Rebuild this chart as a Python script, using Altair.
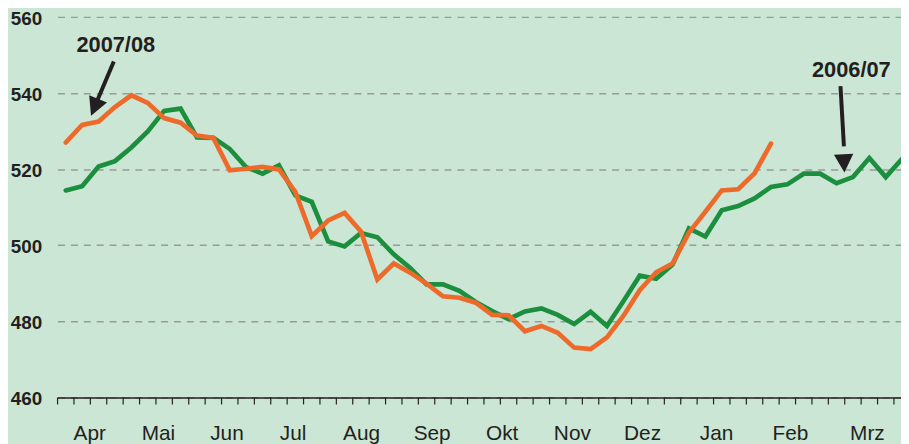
import altair as alt
import pandas as pd

# weekly values (week index k, plotted at k + 0.5)
green_vals = [514.4, 515.5, 520.7, 522.1, 525.7, 529.9, 535.3, 535.9, 528.3, 528.2,
              525.3, 520.5, 518.8, 521.0, 513.1, 511.4, 501.0, 499.7, 503.2, 502.1,
              497.6, 494.0, 489.7, 489.7, 488.0, 485.1, 482.7, 480.6, 482.6, 483.4,
              481.7, 479.3, 482.5, 478.8, 485.3, 492.0, 491.2, 494.9, 504.4, 502.3,
              509.2, 510.3, 512.3, 515.3, 516.0, 518.8, 518.8, 516.3, 517.9, 522.9,
              517.9, 522.7]
orange_vals = [527.0, 531.6, 532.5, 536.3, 539.4, 537.4, 533.4, 532.2, 528.8, 528.2,
               519.7, 520.1, 520.6, 519.9, 514.0, 502.4, 506.5, 508.5, 503.6, 491.0,
               495.2, 492.8, 489.9, 486.6, 486.2, 484.9, 481.7, 481.6, 477.4, 478.8,
               477.0, 473.1, 472.7, 475.8, 481.4, 488.2, 492.9, 495.2, 503.3, 508.8,
               514.4, 514.7, 518.9, 526.7]

months = ["Apr", "Mai", "Jun", "Jul", "Aug", "Sep", "Okt", "Nov", "Dez", "Jan", "Feb", "Mrz"]
month_pos = [1.96, 6.15, 10.33, 14.36, 18.54, 22.84, 27.11, 31.39, 35.67, 40.18, 44.69, 49.38]
y_ticks = [460, 480, 500, 520, 540, 560]
week_ticks = list(range(52))

ann_text = ["2007/08", "2006/07"]
ann_text_week = [3.55, 48.4]
ann_text_value = [552.7, 545.9]
arrow_start_week = [3.43, 47.74]
arrow_start_value = [548.3, 541.8]
arrow_end_week = [2.28, 47.95]
arrow_end_value = [536.6, 526.0]
arrow_tip_week = [2.04, 47.98]
arrow_tip_value = [534.0, 519.1]
arrow_angle = [202.7, 177.4]

GREEN = "#1b8f3e"
ORANGE = "#ee6a2b"
BG = "#cbe6d4"
INK = "#231f20"

green_df = pd.DataFrame({"week": [k + 0.5 for k in range(len(green_vals))], "value": green_vals})
orange_df = pd.DataFrame({"week": [k + 0.5 for k in range(len(orange_vals))], "value": orange_vals})
month_df = pd.DataFrame({"m": months, "week": month_pos})
tick_df = pd.DataFrame({"week": week_ticks})
ann_df = pd.DataFrame({
    "text": ann_text, "tw": ann_text_week, "tv": ann_text_value,
    "sw": arrow_start_week, "sv": arrow_start_value,
    "ew": arrow_end_week, "ev": arrow_end_value,
    "hw": arrow_tip_week, "hv": arrow_tip_value, "angle": arrow_angle,
})

xs = alt.Scale(domain=[0, 51.43], nice=False, zero=False)
ys = alt.Scale(domain=[460, 560], nice=False, zero=False)

green = alt.Chart(green_df).mark_line(
    color=GREEN, strokeWidth=4.7, clip=True, strokeJoin="miter", strokeCap="round"
).encode(
    x=alt.X("week:Q", scale=xs, axis=alt.Axis(
        values=week_ticks, labels=False, ticks=False,
        domainColor="#222222", domainWidth=1.5, grid=False, title=None)),
    y=alt.Y("value:Q", scale=ys, axis=alt.Axis(
        values=y_ticks, grid=True, gridDash=[7, 6], gridColor="#9a9a9a", gridWidth=1.5,
        domain=False, ticks=False, labelFont="Liberation Sans", labelFontWeight="bold",
        labelFontSize=19, labelColor=INK, labelPadding=16, labelOffset=1.5, title=None)),
)

orange = alt.Chart(orange_df).mark_line(
    color=ORANGE, strokeWidth=4.7, clip=True, strokeJoin="miter", strokeCap="round"
).encode(x=alt.X("week:Q", scale=xs), y=alt.Y("value:Q", scale=ys))

week_tick_marks = alt.Chart(tick_df).mark_rule(color="#222222", strokeWidth=1.2).encode(
    x=alt.X("week:Q", scale=xs), y=alt.value(384), y2=alt.value(391))

month_labels = alt.Chart(month_df).mark_text(
    font="Liberation Sans", fontSize=21, color=INK, baseline="alphabetic", align="center"
).encode(x=alt.X("week:Q", scale=xs), y=alt.value(426.5), text="m:N")

shafts = alt.Chart(ann_df).mark_rule(color=INK, strokeWidth=4).encode(
    x=alt.X("sw:Q", scale=xs), y=alt.Y("sv:Q", scale=ys),
    x2="ew:Q", y2="ev:Q")

heads = alt.Chart(ann_df).mark_point(
    shape="M0,0 L-1,1.9 L1,1.9 Z", filled=True, fill=INK, stroke=None, opacity=1, size=380
).encode(x=alt.X("hw:Q", scale=xs), y=alt.Y("hv:Q", scale=ys),
         angle=alt.Angle("angle:Q", scale=None))

ann_labels = alt.Chart(ann_df).mark_text(
    font="Liberation Sans", fontWeight="bold", fontSize=22, color=INK,
    baseline="middle", align="center"
).encode(x=alt.X("tw:Q", scale=xs), y=alt.Y("tv:Q", scale=ys), text="text:N")

chart = alt.layer(green, orange, week_tick_marks, month_labels, shafts, heads, ann_labels).properties(
    width=851, height=384,
    padding={"left": 50, "top": 7, "right": 0, "bottom": 45},
    autosize=alt.AutoSizeParams(type="none"),
    background=BG,
).configure_view(stroke=None)

chart.save("out.html", embed_options={"renderer": "svg", "actions": False})
